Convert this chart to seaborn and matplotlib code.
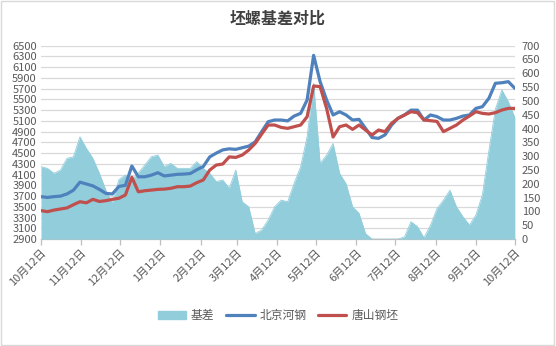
import matplotlib
matplotlib.use('Agg')
import matplotlib.pyplot as plt
import matplotlib.patches as mpatches
from matplotlib.lines import Line2D
import pandas as pd
import seaborn as sns

# ---------------- data ----------------
dates = pd.date_range('2020-10-12', periods=74, freq='5D')

beijing_hegang = [3690, 3675, 3690, 3700, 3740, 3810, 3960, 3925, 3890, 3825,
                  3750, 3740, 3880, 3900, 4260, 4060, 4060, 4090, 4135, 4075,
                  4090, 4105, 4110, 4120, 4190, 4250, 4430, 4500, 4560, 4580,
                  4570, 4600, 4630, 4710, 4900, 5085, 5116, 5116, 5100, 5190,
                  5240, 5490, 6320, 5830, 5490, 5210, 5270, 5210, 5116, 5128,
                  4960, 4790, 4775, 4840, 5020, 5150, 5210, 5300, 5300, 5116,
                  5210, 5180, 5116, 5116, 5147, 5190, 5210, 5333, 5364, 5520,
                  5800, 5810, 5830, 5706]

tangshan_billet = [3430, 3410, 3440, 3460, 3480, 3540, 3595, 3575, 3640, 3600,
                   3615, 3640, 3660, 3720, 4050, 3780, 3800, 3812, 3825, 3830,
                   3845, 3875, 3875, 3887, 3950, 4000, 4185, 4278, 4297, 4430,
                   4420, 4464, 4557, 4681, 4855, 5023, 5023, 4979, 4961, 4992,
                   5023, 5178, 5750, 5737, 5333, 4800, 4992, 5023, 4942, 5023,
                   4930, 4837, 4930, 4899, 5054, 5147, 5209, 5271, 5253, 5116,
                   5104, 5090, 4900, 4961, 5023, 5116, 5190, 5271, 5240, 5228,
                   5253, 5302, 5333, 5333]

basis = [262, 256, 238, 250, 292, 298, 370, 328, 292, 238,
         177, 130, 215, 232, 214, 240, 268, 298, 304, 262,
         274, 256, 256, 256, 280, 256, 238, 208, 214, 184,
         250, 135, 117, 20, 33, 69, 117, 141, 135, 202,
         262, 371, 564, 274, 304, 346, 238, 200, 117, 93,
         20, 0, 0, 0, 0, 0, 8, 63, 45, 5,
         50, 110, 141, 177, 117, 81, 51, 87, 160, 320,
         470, 540, 497, 440]

tick_dates = pd.to_datetime(['2020-10-12', '2020-11-12', '2020-12-12', '2021-01-12',
                             '2021-02-12', '2021-03-12', '2021-04-12', '2021-05-12',
                             '2021-06-12', '2021-07-12', '2021-08-12', '2021-09-12',
                             '2021-10-12'])
tick_labels = ['10月12日', '11月12日', '12月12日', '1月12日', '2月12日', '3月12日',
               '4月12日', '5月12日', '6月12日', '7月12日', '8月12日', '9月12日',
               '10月12日']

title = '坯螺基差对比'
series_names = ['基差', '北京河钢', '唐山钢坯']

df = pd.DataFrame({'date': dates, '北京河钢': beijing_hegang,
                   '唐山钢坯': tangshan_billet, '基差': basis})

# ---------------- style ----------------
sns.set_theme(style='white')
plt.rcParams['font.family'] = ['Noto Sans CJK SC', 'DejaVu Sans']

c_area = '#92CDDC'
c_blue = '#4F81BD'
c_red = '#C0504D'
c_text = '#595959'

fig = plt.figure(figsize=(5.56, 3.46), dpi=100)
pos = [0.0737, 0.309, 0.8523, 0.559]

ax = fig.add_axes(pos)
ax.set_ylim(2900, 6500)
ax.set_yticks(range(2900, 6501, 200))
ax.grid(axis='y', color='#D9D9D9', lw=0.9)
ax.grid(axis='x', visible=False)
for s in ['left', 'right', 'top']:
    ax.spines[s].set_visible(False)
ax.spines['bottom'].set_color('#BFBFBF')
ax.spines['bottom'].set_linewidth(0.9)

ax2 = ax.twinx()
ax2.set_ylim(0, 700)
ax2.set_yticks(range(0, 701, 50))
for s in ['left', 'right', 'top', 'bottom']:
    ax2.spines[s].set_visible(False)
ax2.grid(False)
ax2.fill_between(df['date'], df['基差'], 0, color=c_area, lw=0)
sns.lineplot(data=df, x='date', y='基差', ax=ax2, color=c_area, lw=0.6)

ax3 = fig.add_axes(pos, sharex=ax, sharey=ax)
sns.lineplot(data=df, x='date', y='北京河钢', ax=ax3, color=c_blue, lw=2.3)
sns.lineplot(data=df, x='date', y='唐山钢坯', ax=ax3, color=c_red, lw=2.3)
ax3.axis('off')

ax.set_zorder(0)
ax2.set_zorder(1)
ax3.set_zorder(2)
ax2.patch.set_visible(False)
ax3.patch.set_visible(False)

ax.set_xlim(tick_dates[0], tick_dates[-1])
ax.set_xticks(tick_dates)
ax.set_xticklabels(tick_labels, rotation=45, ha='right', rotation_mode='anchor',
                   fontsize=8, color=c_text)
ax.tick_params(axis='x', length=4, width=0.9, color='#BFBFBF', pad=2, bottom=True)
ax.tick_params(axis='y', length=0, labelsize=8, labelcolor=c_text, pad=3)
ax2.tick_params(axis='y', length=0, labelsize=8, labelcolor=c_text, pad=5)
ax.set_xlabel('')
ax.set_ylabel('')
ax2.set_xlabel('')
ax2.set_ylabel('')

fig.suptitle(title, x=0.5, y=0.97, fontsize=11.5, fontweight='bold', color='#404040')

handles = [mpatches.Patch(color=c_area),
           Line2D([0], [0], color=c_blue, lw=2.3),
           Line2D([0], [0], color=c_red, lw=2.3)]
fig.legend(handles, series_names, loc='center', bbox_to_anchor=(0.5, 0.087), ncol=3,
           frameon=False, fontsize=8.5, handlelength=2.4, handletextpad=0.4,
           columnspacing=1.0, labelcolor=c_text)

fig.patches.append(mpatches.Rectangle((0.002, 0.003), 0.995, 0.994, transform=fig.transFigure,
                                      fill=False, ec='#D9D9D9', lw=1))

fig.savefig('out.png', dpi=100, facecolor='white')
